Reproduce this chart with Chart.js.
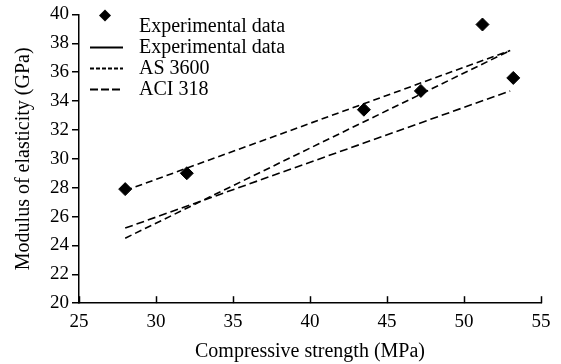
<!DOCTYPE html>
<html>
<head>
<meta charset="utf-8">
<script src="https://cdn.jsdelivr.net/npm/chart.js@4.4.0/dist/chart.umd.min.js"></script>
<style>
  html, body { margin: 0; padding: 0; background: #fff; }
  #wrap { width: 561px; height: 364px; }
</style>
</head>
<body>
<div id="wrap"><canvas id="modChart"></canvas></div>
<script>
"use strict";
// measured points
var expStrength = [28, 32, 43.5, 47.2, 51.2, 53.2];
var expModulus = [27.9, 29.0, 33.4, 34.7, 39.3, 35.6];
// fitted / code lines (end points)
var fitStrength = [28, 53];
var fitModulus = [27.8, 37.5];
var as3600Strength = [28, 53];
var as3600Modulus = [24.5, 37.5];
var aciStrength = [28, 53];
var aciModulus = [25.2, 34.7];

var xTicks = [25, 30, 35, 40, 45, 50, 55];
var yTicks = [20, 22, 24, 26, 28, 30, 32, 34, 36, 38, 40];

function toXY(xs, ys) {
    return xs.map(function(x, i) { return {x: x, y: ys[i]}; });
}

var serif = "'Liberation Serif', 'DejaVu Serif', serif";

/* legend drawn in the upper left corner of the plot */
var cornerLegend = {
    id: 'cornerLegend',
    afterDraw: function(chart) {
        var ctx = chart.ctx;
        var a = chart.chartArea;
        var x0 = a.left + 11, tx = a.left + 60, y = a.top + 11, step = 21;
        ctx.save();
        ctx.font = "20px " + serif;
        ctx.fillStyle = '#000';
        ctx.textBaseline = 'middle';
        chart.data.datasets.forEach(function(ds, i) {
            var cy = y + i * step;
            ctx.strokeStyle = '#000';
            ctx.fillStyle = '#000';
            if (ds.showLine === false) {
                var dy = cy - 10;
                ctx.beginPath();
                ctx.moveTo(x0 + 15, dy - 6);
                ctx.lineTo(x0 + 21, dy);
                ctx.lineTo(x0 + 15, dy + 6);
                ctx.lineTo(x0 + 9, dy);
                ctx.closePath();
                ctx.fill();
            } else {
                ctx.lineWidth = 2;
                ctx.setLineDash(ds.legendDash);
                ctx.beginPath();
                ctx.moveTo(x0, cy + 1);
                ctx.lineTo(x0 + 33, cy + 1);
                ctx.stroke();
                ctx.setLineDash([]);
            }
            ctx.fillText(ds.label, tx, cy + 1);
        });
        ctx.restore();
    }
};

/* x ticks point up into the plot */
var innerTicks = {
    id: 'innerTicks',
    afterDraw: function(chart) {
        var ctx = chart.ctx;
        var xs = chart.scales.x;
        var a = chart.chartArea;
        ctx.save();
        ctx.strokeStyle = '#000';
        ctx.lineWidth = 1.5;
        xTicks.forEach(function(v) {
            var px = Math.round(xs.getPixelForValue(v)) + 0.5;
            ctx.beginPath();
            ctx.moveTo(px, a.bottom);
            ctx.lineTo(px, a.bottom - 7);
            ctx.stroke();
        });
        ctx.restore();
    }
};

var ctx = document.getElementById('modChart').getContext('2d');
var chart = new Chart(ctx, {
    type: 'scatter',
    data: {
        datasets: [{
            label: 'Experimental data',
            data: toXY(expStrength, expModulus),
            showLine: false,
            pointStyle: 'rectRot',
            pointRadius: 6.5,
            backgroundColor: '#000',
            borderColor: '#000'
        }, {
            label: 'Experimental data',
            data: toXY(fitStrength, fitModulus),
            showLine: true,
            pointRadius: 0,
            borderColor: '#000',
            borderWidth: 1.6,
            borderDash: [7, 4],
            legendDash: []
        }, {
            label: 'AS 3600',
            data: toXY(as3600Strength, as3600Modulus),
            showLine: true,
            pointRadius: 0,
            borderColor: '#000',
            borderWidth: 1.6,
            borderDash: [7, 4],
            legendDash: [4, 2]
        }, {
            label: 'ACI 318',
            data: toXY(aciStrength, aciModulus),
            showLine: true,
            pointRadius: 0,
            borderColor: '#000',
            borderWidth: 1.6,
            borderDash: [8, 4],
            legendDash: [8, 3]
        }]
    },
    options: {
        responsive: true,
        maintainAspectRatio: false,
        animation: false,
        layout: { padding: { top: 4, right: 20, left: 12, bottom: 0 } },
        plugins: {
            legend: { display: false },
            tooltip: { enabled: false }
        },
        scales: {
            x: {
                type: 'linear',
                min: 25,
                max: 55,
                afterBuildTicks: function(axis) {
                    axis.ticks = xTicks.map(function(v) { return {value: v}; });
                },
                border: { display: true, color: '#000', width: 1.5 },
                grid: { display: false, drawTicks: false },
                ticks: { color: '#000', font: { family: serif, size: 19 }, padding: 7, maxRotation: 0 },
                title: { display: true, text: 'Compressive strength (MPa)', color: '#000', font: { family: serif, size: 20 }, padding: { top: 0, bottom: 0 } }
            },
            y: {
                type: 'linear',
                min: 20,
                max: 40,
                afterBuildTicks: function(axis) {
                    axis.ticks = yTicks.map(function(v) { return {value: v}; });
                },
                border: { display: true, color: '#000', width: 1.5 },
                grid: { display: true, drawOnChartArea: false, drawTicks: true, tickLength: 7, color: '#000', lineWidth: 1.5 },
                ticks: { color: '#000', font: { family: serif, size: 19 }, padding: 3 },
                title: { display: true, text: 'Modulus of elasticity (GPa)', color: '#000', font: { family: serif, size: 20 }, padding: { top: 0, bottom: 11 } }
            }
        }
    },
    plugins: [cornerLegend, innerTicks]
});
</script>
</body>
</html>
